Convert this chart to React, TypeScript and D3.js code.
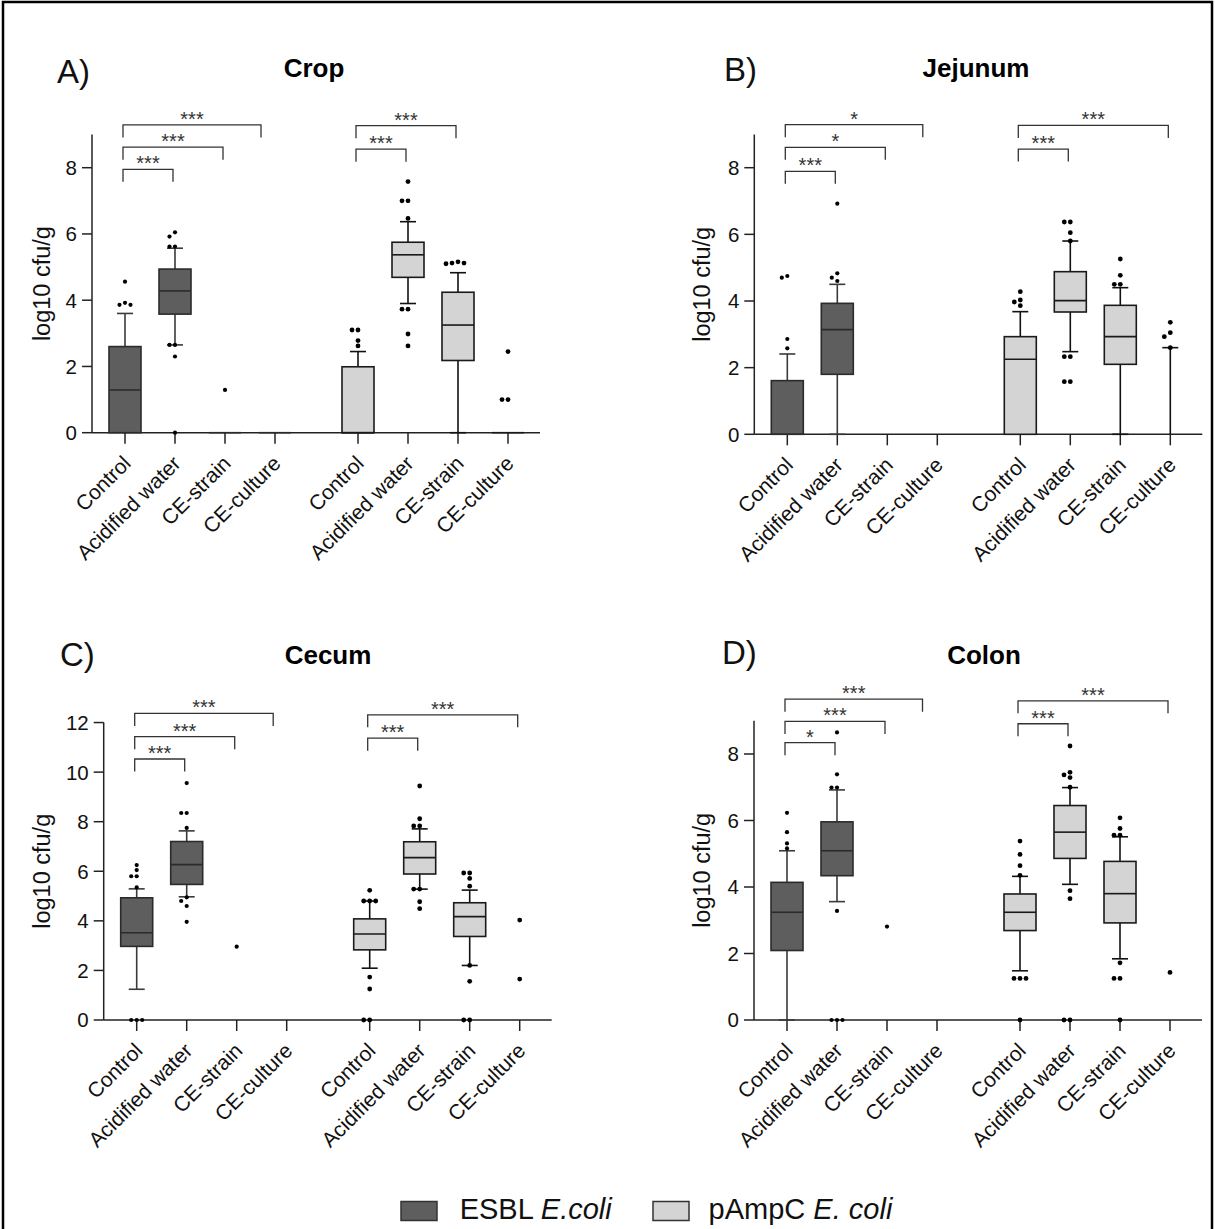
import React from "react";
import * as d3 from "d3";

// ---------------- DATA ----------------
const categories = ["Control", "Acidified water", "CE-strain", "CE-culture"];
const strains = ["ESBL", "pAmpC"];
const yLabel = "log10 cfu/g";

// stats per category: [lowWhisker, q1, median, q3, highWhisker]; null box parts = no box
const cropESBL = [[0, 0, 1.29, 2.6, 3.6], [2.65, 3.58, 4.28, 4.94, 5.57], [0, 0, 0, 0, 0], [0, 0, 0, 0, 0]];
const cropESBLOut = [[4.56, 3.92, 3.86, 3.86], [6.05, 5.92, 5.62, 5.62, 2.65, 2.65, 2.3, 0], [1.29], []];
const cropPAmpC = [[0, 0, 0, 1.99, 2.45], [3.9, 4.69, 5.37, 5.75, 6.37], [0, 2.18, 3.25, 4.24, 4.83], [0, 0, 0, 0, 0]];
const cropPAmpCOut = [[3.1, 3.1, 2.78, 2.62], [7.58, 7.0, 7.0, 6.47, 3.73, 3.73, 2.98, 2.62], [5.16, 5.1, 5.12, 5.12], [2.45, 1.0, 1.0]];

const jejESBL = [[0, 0, 0, 1.61, 2.41], [0, 1.8, 3.14, 3.93, 4.5], null, null];
const jejESBLOut = [[4.75, 4.7, 2.86, 2.58], [6.92, 4.83, 4.7, 4.6], [], []];
const jejPAmpC = [[0, 0, 2.25, 2.93, 3.68], [2.48, 3.67, 4.01, 4.88, 5.8], [0, 2.1, 2.93, 3.87, 4.4], [0, null, null, null, 2.6]];
const jejPAmpCOut = [[4.28, 4.03, 3.97, 3.86], [6.37, 6.37, 6.05, 5.8, 2.33, 2.33, 1.58, 1.58], [5.26, 4.77, 4.5, 4.5], [3.36, 3.05, 2.93, 2.6]];

const cecESBL = [[1.24, 2.97, 3.52, 4.93, 5.29], [4.97, 5.47, 6.27, 7.2, 7.63], null, null];
const cecESBLOut = [[6.25, 6.05, 5.8, 5.8, 5.35, 0, 0, 0], [9.56, 8.35, 8.35, 7.75, 4.95, 4.8, 4.6, 3.96], [2.96], []];
const cecPAmpC = [[2.09, 2.83, 3.47, 4.08, 4.8], [5.28, 5.89, 6.55, 7.19, 7.71], [2.2, 3.37, 4.17, 4.73, 5.24], null];
const cecPAmpCOut = [[5.23, 4.8, 4.8, 4.8, 1.73, 1.25, 0, 0], [9.44, 8.12, 7.83, 7.83, 5.28, 5.28, 4.77, 4.49], [5.93, 5.93, 5.71, 5.4, 2.2, 1.56, 0, 0], [4.03, 1.65]];

const colESBL = [[0, 2.09, 3.24, 4.14, 5.09], [3.56, 4.34, 5.09, 5.96, 6.92], null, null];
const colESBLOut = [[6.23, 5.65, 5.31, 5.16], [8.65, 7.39, 6.99, 6.99, 3.28, 0, 0, 0], [2.81], []];
const colPAmpC = [[1.48, 2.69, 3.24, 3.79, 4.32], [4.08, 4.86, 5.65, 6.45, 6.99], [1.84, 2.92, 3.8, 4.77, 5.51], null];
const colPAmpCOut = [[5.38, 4.98, 4.64, 4.35, 1.25, 1.25, 1.25, 0], [8.24, 7.45, 7.37, 7.29, 7.0, 3.89, 3.65, 0, 0], [6.08, 5.76, 5.56, 5.56, 1.72, 1.25, 1.25, 0], [1.43]];

// significance brackets: [fromSlot, toSlot, label, level]
const cropBrackets = [[0, 1, "***", 7.95], [0, 2, "***", 8.62], [0, 2.76, "***", 9.29], [4.66, 5.66, "***", 8.56], [4.66, 6.66, "***", 9.27]];
const jejBrackets = [[0, 1, "***", 7.89], [0, 2, "*", 8.61], [0, 2.75, "*", 9.29], [4.66, 5.66, "***", 8.56], [4.66, 7.66, "***", 9.27]];
const cecBrackets = [[0, 1, "***", 10.53], [0, 2, "***", 11.43], [0, 2.77, "***", 12.37], [4.66, 5.66, "***", 11.37], [4.66, 7.66, "***", 12.31]];
const colBrackets = [[0, 1, "*", 8.34], [0, 2, "***", 8.98], [0, 2.75, "***", 9.65], [4.66, 5.66, "***", 8.91], [4.66, 7.66, "***", 9.6]];

const yTicks9 = [0, 2, 4, 6, 8];
const yTicks12 = [0, 2, 4, 6, 8, 10, 12];

// ---------------- LAYOUT ----------------
const FONT = "'Liberation Sans', Arial, Helvetica, sans-serif";
const DARK = "#5e5e5e";
const LIGHT = "#d4d4d4";
const GROUP_GAP = 0.66; // extra slot gap between the two strain groups

const panels = [
  { letter: "A)", title: "Crop", yMax: 9, ticks: yTicks9, ax: 92, y0: 432.7, y8: 167.7, lx: 57, ly: 82.5, tx: 314, ty: 77.3, labX: 50, stats: [cropESBL, cropPAmpC], outs: [cropESBLOut, cropPAmpCOut], brackets: cropBrackets },
  { letter: "B)", title: "Jejunum", yMax: 9, ticks: yTicks9, ax: 754.3, y0: 434.3, y8: 167.7, lx: 724, ly: 81, tx: 976, ty: 77.3, labX: 710, stats: [jejESBL, jejPAmpC], outs: [jejESBLOut, jejPAmpCOut], brackets: jejBrackets },
  { letter: "C)", title: "Cecum", yMax: 12, ticks: yTicks12, ax: 103.7, y0: 1020, y8: 821.7, lx: 60, ly: 666, tx: 328, ty: 663.5, labX: 49.5, stats: [cecESBL, cecPAmpC], outs: [cecESBLOut, cecPAmpCOut], brackets: cecBrackets },
  { letter: "D)", title: "Colon", yMax: 9, ticks: yTicks9, ax: 754, y0: 1020, y8: 754, lx: 722, ly: 664, tx: 984, ty: 663.5, labX: 710, stats: [colESBL, colPAmpC], outs: [colESBLOut, colPAmpCOut], brackets: colBrackets },
];

function dodge(vals: number[], y: (v: number) => number, cx: number, r: number, step: number) {
  const placed: { x: number; y: number }[] = [];
  const sorted = [...vals].sort((a, b) => b - a);
  for (const v of sorted) {
    const py = y(v);
    let k = 0;
    while (true) {
      const m = k === 0 ? 0 : (k % 2 === 1 ? -Math.ceil(k / 2) : Math.ceil(k / 2));
      const px = cx + m * step;
      const hit = placed.some((p) => Math.abs(p.x - px) < 2 * r + 0.3 && Math.abs(p.y - py) < 2 * r + 0.3);
      if (!hit) {
        placed.push({ x: px, y: py });
        break;
      }
      k++;
    }
  }
  return placed;
}

function Panel({ p }: { p: any }) {
  const y = d3.scaleLinear().domain([0, 8]).range([p.y0, p.y8]);
  const x = d3.scaleLinear().domain([0, 1]).range([p.ax + 33, p.ax + 83]);
  const xEnd = p.ax + 448;
  const yTop = y(p.yMax);
  const boxW = 32;
  const capW = 16;
  const slots: number[] = [];
  strains.forEach((_, g) => categories.forEach((_, i) => slots.push(i + g * (4 + GROUP_GAP))));

  const elems: any[] = [];
  strains.forEach((s, g) => {
    const fill = g === 0 ? DARK : LIGHT;
    const stroke = g === 0 ? "#2b2b2b" : "#1a1a1a";
    const wStroke = g === 0 ? "#3a3a3a" : "#111";
    const r = g === 0 ? 2.1 : 2.4;
    categories.forEach((c, i) => {
      const slot = i + g * (4 + GROUP_GAP);
      const cx = x(slot);
      const st = p.stats[g][i];
      const key = `${s}-${c}`;
      if (st) {
        const [lo, q1, med, q3, hi] = st;
        if (q1 === null) {
          elems.push(<line key={key + "w"} x1={cx} x2={cx} y1={y(lo)} y2={y(hi)} stroke={wStroke} strokeWidth={1.6} />);
          elems.push(<line key={key + "c"} x1={cx - capW / 2} x2={cx + capW / 2} y1={y(hi)} y2={y(hi)} stroke={wStroke} strokeWidth={1.6} />);
        } else {
          if (hi > q3) {
            elems.push(<line key={key + "wh"} x1={cx} x2={cx} y1={y(q3)} y2={y(hi)} stroke={wStroke} strokeWidth={1.6} />);
            elems.push(<line key={key + "ch"} x1={cx - capW / 2} x2={cx + capW / 2} y1={y(hi)} y2={y(hi)} stroke={wStroke} strokeWidth={1.6} />);
          }
          if (lo < q1) {
            elems.push(<line key={key + "wl"} x1={cx} x2={cx} y1={y(q1)} y2={y(lo)} stroke={wStroke} strokeWidth={1.6} />);
            elems.push(<line key={key + "cl"} x1={cx - capW / 2} x2={cx + capW / 2} y1={y(lo)} y2={y(lo)} stroke={wStroke} strokeWidth={1.6} />);
          }
          elems.push(<rect key={key + "b"} x={cx - boxW / 2} y={y(q3)} width={boxW} height={Math.max(0, y(q1) - y(q3))} fill={fill} stroke={stroke} strokeWidth={q3 === q1 ? 2.4 : 1.6} />);
          elems.push(<line key={key + "m"} x1={cx - boxW / 2} x2={cx + boxW / 2} y1={y(med)} y2={y(med)} stroke={stroke} strokeWidth={1.6} />);
        }
      }
      const pts = dodge(p.outs[g][i], y, cx, r, g === 0 ? 5.5 : 6);
      pts.forEach((pt, j) => elems.push(<circle key={key + "o" + j} cx={pt.x} cy={pt.y} r={r} fill="#000" />));
    });
  });

  return (
    <g>
      <text x={p.lx} y={p.ly} fontFamily={FONT} fontSize={33} fill="#111">{p.letter}</text>
      <text x={p.tx} y={p.ty} fontFamily={FONT} fontSize={26} fontWeight="bold" textAnchor="middle" fill="#000">{p.title}</text>
      <text transform={`translate(${p.labX},${(y(0) + yTop) / 2}) rotate(-90)`} textAnchor="middle" fontFamily={FONT} fontSize={23.5} fill="#111">{yLabel}</text>
      {/* y axis */}
      <line x1={p.ax} x2={p.ax} y1={y(0)} y2={yTop} stroke="#222" strokeWidth={1.5} />
      {p.ticks.map((t: number) => (
        <g key={"yt" + t}>
          <line x1={p.ax - 10} x2={p.ax} y1={y(t)} y2={y(t)} stroke="#222" strokeWidth={1.5} />
          <text x={p.ax - 15} y={y(t)} dy="0.36em" textAnchor="end" fontFamily={FONT} fontSize={20.5} fill="#111">{t}</text>
        </g>
      ))}
      {/* x axis */}
      <line x1={p.ax} x2={xEnd} y1={y(0)} y2={y(0)} stroke="#222" strokeWidth={1.5} />
      {slots.map((sl, k) => (
        <g key={"xt" + k}>
          <line x1={x(sl)} x2={x(sl)} y1={y(0)} y2={y(0) + 11} stroke="#222" strokeWidth={1.5} />
          <text transform={`translate(${x(sl) + 7},${y(0) + 32}) rotate(-45)`} textAnchor="end" fontFamily={FONT} fontSize={21} fill="#111">{categories[k % 4]}</text>
        </g>
      ))}
      {elems}
      {/* brackets */}
      {p.brackets.map((b: any, k: number) => {
        const x1 = x(b[0]) - 2;
        const x2 = x(b[1]) - 2;
        const by = y(b[3]);
        return (
          <g key={"br" + k}>
            <path d={`M${x1},${by + 12.5}V${by}H${x2}V${by + 12.5}`} fill="none" stroke="#333" strokeWidth={1.3} />
            <text x={(x1 + x2) / 2} y={by + 1} textAnchor="middle" fontFamily={FONT} fontSize={20} fill="#333">{b[2]}</text>
          </g>
        );
      })}
    </g>
  );
}

export default function App() {
  return (
    <svg width={1215} height={1229} style={{ position: "absolute", left: 0, top: 0, display: "block", background: "#fff" }}>
      <rect x={0} y={0} width={1215} height={1229} fill="#fff" />
      <rect x={3} y={2} width={1209} height={1260} fill="none" stroke="#000" strokeWidth={2.5} />
      {panels.map((p) => <Panel key={p.letter} p={p} />)}
      {/* legend */}
      <rect x={401} y={1201.5} width={36} height={19} fill={DARK} stroke="#333" strokeWidth={1.5} />
      <text x={459.7} y={1219} fontFamily={FONT} fontSize={29} fill="#111">ESBL <tspan fontStyle="italic">E.coli</tspan></text>
      <rect x={653} y={1201.5} width={36} height={19} fill={LIGHT} stroke="#333" strokeWidth={1.5} />
      <text x={708.6} y={1219} fontFamily={FONT} fontSize={29} fill="#111">pAmpC <tspan fontStyle="italic">E. coli</tspan></text>
    </svg>
  );
}
